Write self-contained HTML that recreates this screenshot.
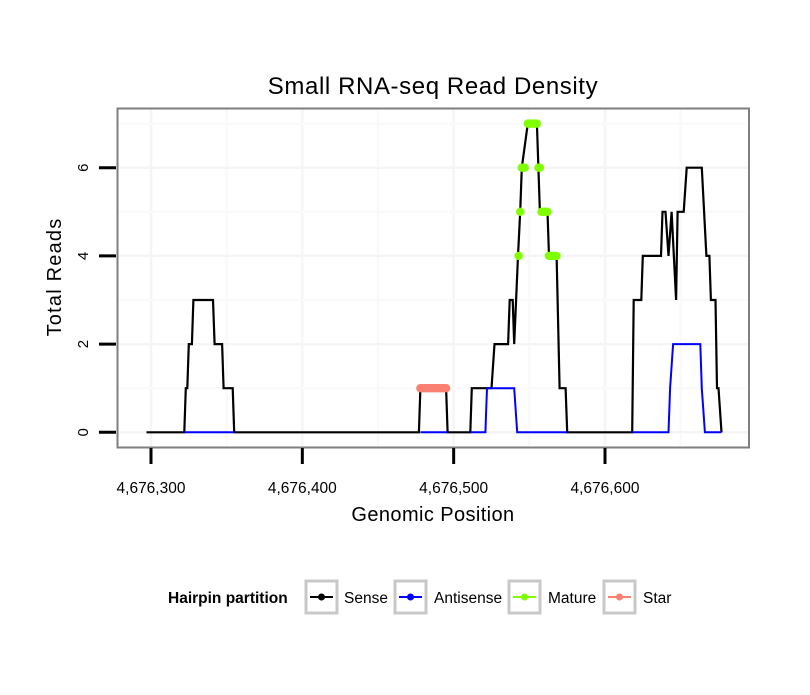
<!DOCTYPE html>
<html>
<head>
<meta charset="utf-8">
<style>
  html,body{margin:0;padding:0;background:#fff;}
  body{width:810px;height:690px;overflow:hidden;font-family:"Liberation Sans",sans-serif;}
  svg text{font-family:"Liberation Sans",sans-serif;}
</style>
</head>
<body>
<svg id="chart" width="810" height="690" viewBox="0 0 810 690" xmlns="http://www.w3.org/2000/svg">
  <rect x="0" y="0" width="810" height="690" fill="#fff"/>
  <text x="433" y="94" text-anchor="middle" font-size="24" letter-spacing="0.6" fill="#000">Small RNA-seq Read Density</text>
  <rect x="117" y="108.5" width="632" height="339" fill="#fff"/>
  <g id="grid"></g>
  <g id="series"></g>
  <rect x="117.5" y="108.5" width="631.5" height="339" fill="none" stroke="#7f7f7f" stroke-width="2"/>
  <g id="axes"></g>
  <text x="433" y="521" text-anchor="middle" font-size="20" letter-spacing="0.4" fill="#000">Genomic Position</text>
  <text transform="translate(61,277) rotate(-90)" text-anchor="middle" font-size="20" letter-spacing="1.2" fill="#000">Total Reads</text>

  <g>
    <text x="168" y="603" font-size="15.5" font-weight="bold" fill="#000">Hairpin partition</text>
    <g>
      <rect x="306" y="581" width="31" height="32" fill="#fff" stroke="#c8c8c8" stroke-width="3"/>
      <line x1="310" y1="597" x2="333" y2="597" stroke="#000" stroke-width="2"/>
      <circle cx="321.5" cy="597" r="3.5" fill="#000"/>
      <text x="344" y="603" font-size="15.5" fill="#000">Sense</text>
    </g>
    <g>
      <rect x="395" y="581" width="31" height="32" fill="#fff" stroke="#c8c8c8" stroke-width="3"/>
      <line x1="399" y1="597" x2="422" y2="597" stroke="#0000ff" stroke-width="2"/>
      <circle cx="410.5" cy="597" r="3.5" fill="#0000ff"/>
      <text x="434" y="603" font-size="15.5" fill="#000">Antisense</text>
    </g>
    <g>
      <rect x="509" y="581" width="31" height="32" fill="#fff" stroke="#c8c8c8" stroke-width="3"/>
      <line x1="513" y1="597" x2="536" y2="597" stroke="#7fff00" stroke-width="2"/>
      <circle cx="524.5" cy="597" r="3.5" fill="#7fff00"/>
      <text x="548" y="603" font-size="15.5" fill="#000">Mature</text>
    </g>
    <g>
      <rect x="604" y="581" width="31" height="32" fill="#fff" stroke="#c8c8c8" stroke-width="3"/>
      <line x1="608" y1="597" x2="631" y2="597" stroke="#fa8072" stroke-width="2"/>
      <circle cx="619.5" cy="597" r="3.5" fill="#fa8072"/>
      <text x="643" y="603" font-size="15.5" fill="#000">Star</text>
    </g>
  </g>
</svg>
<script>
// Genomic positions are offsets from BASE (4,676,000)
const BASE = 4676000;
const xTicks = [300, 400, 500, 600];
const xTickLabels = ["4,676,300", "4,676,400", "4,676,500", "4,676,600"];
const yTicks = [0, 2, 4, 6];
const yTickLabels = ["0", "2", "4", "6"];

const sensePos = [297,322,323,324,325,327,328,341,342,347,348,354,355,477,478,495,496,511,512,525,527,536,537,539,540,542.5,544,545,549,555,556,557,562,563,568,570,574,575,618,619,624,625,637,638,640,642,644,647,648,652,654,664,667,669,670,673,674,675,677];
const senseVal = [0,0,1,1,2,2,3,3,2,2,1,1,0,0,1,1,0,0,1,1,2,2,3,3,2,4,5,6,7,7,6,5,5,4,4,1,1,0,0,3,3,4,4,5,5,4,5,3,5,5,6,6,4,4,3,3,1,1,0];

const antiSegPos = [[322,355],[478,496],[511,521,522,540,542,575],[618,642,643,645,663,664,666,677]];
const antiSegVal = [[0,0],[0,0],[0,0,1,1,0,0],[0,0,1,2,2,1,0,0]];

const maturePos = [543,544,545,546,547,549,550,551,552,553,554,555,556,557,558,559,560,561,562,563,564,565,566,567,568];
const matureVal = [4,5,6,6,6,7,7,7,7,7,7,7,6,6,5,5,5,5,5,4,4,4,4,4,4];

const starPos = [478,479,480,481,482,483,484,485,486,487,488,489,490,491,492,493,494,495];
const starVal = [1,1,1,1,1,1,1,1,1,1,1,1,1,1,1,1,1,1];

const NS = "http://www.w3.org/2000/svg";
function xs(p){ return 151 + (p - 300) * 1.5133; }
function ys(v){ return 432.3 - v * 44.1; }
function mk(tag, attrs, parent){
  const e = document.createElementNS(NS, tag);
  for (const k in attrs) e.setAttribute(k, attrs[k]);
  parent.appendChild(e);
  return e;
}
const grid = document.getElementById('grid');
const series = document.getElementById('series');
const axes = document.getElementById('axes');

for (let i = 0; i < xTicks.length; i++) {
  for (const off of [0, 50]) {
    const gx = xs(xTicks[i] + off);
    if (gx > 748) continue;
    const l = mk('line', {x1: gx, y1: 109, x2: gx, y2: 447, stroke: off ? '#fafafa' : '#f5f5f5', 'stroke-width': 2.5}, grid);
    
    
  }
}
for (let i = 0; i < yTicks.length; i++) {
  for (const off of [0, 1]) {
    const gy = ys(yTicks[i] + off);
    const l = mk('line', {x1: 118, y1: gy, x2: 748, y2: gy, stroke: off ? '#fafafa' : '#f5f5f5', 'stroke-width': 2.5}, grid);
    
    
  }
}

function pts(P, V){ return P.map((p, i) => xs(p).toFixed(1) + ',' + ys(V[i]).toFixed(1)).join(' '); }

const sense = mk('polyline', {points: pts(sensePos, senseVal), fill: 'none', stroke: '#000', 'stroke-width': 2.2, 'stroke-linejoin': 'miter'}, series);



for (let s = 0; s < antiSegPos.length; s++) {
  const a = mk('polyline', {points: pts(antiSegPos[s], antiSegVal[s]), fill: 'none', stroke: '#0000ff', 'stroke-width': 2}, series);
  
  
}

const starLine = mk('polyline', {points: pts(starPos, starVal), fill: 'none', stroke: '#fa8072', 'stroke-width': 2}, series);


for (let i = 0; i < starPos.length; i++) {
  const c = mk('circle', {cx: xs(starPos[i]), cy: ys(starVal[i]), r: 4.2, fill: '#fa8072'}, series);
  
  
}

for (let i = 0; i < maturePos.length; i++) {
  const c = mk('circle', {cx: xs(maturePos[i]), cy: ys(matureVal[i]), r: 4.2, fill: '#7fff00'}, series);
  
  
}

for (let i = 0; i < xTicks.length; i++) {
  const tx = xs(xTicks[i]);
  const t = mk('line', {x1: tx, y1: 448, x2: tx, y2: 464, stroke: '#000', 'stroke-width': 3}, axes);
  
  
  const lb = mk('text', {x: tx, y: 493, 'text-anchor': 'middle', 'font-size': 15.5, fill: '#000'}, axes);
  lb.textContent = xTickLabels[i];
  
  
}
for (let i = 0; i < yTicks.length; i++) {
  const ty = ys(yTicks[i]);
  const t = mk('line', {x1: 99, y1: ty, x2: 116, y2: ty, stroke: '#000', 'stroke-width': 3}, axes);
  
  
  const lb = mk('text', {transform: 'translate(88,' + ty + ') rotate(-90)', 'text-anchor': 'middle', 'font-size': 15, fill: '#000'}, axes);
  lb.textContent = yTickLabels[i];
  
  
}
</script>
</body>
</html>
